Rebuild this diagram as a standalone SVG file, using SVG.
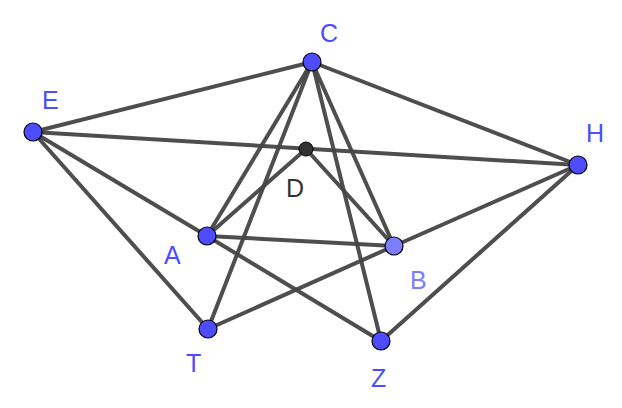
<svg xmlns="http://www.w3.org/2000/svg" width="622" height="408" viewBox="0 0 622 408">
<style>
.e{stroke:#444;stroke-width:4;stroke-linecap:round;fill:none;opacity:0.95}
.p{fill:#4d4dff;stroke:#000;stroke-width:1.2}
.l{font-family:"Liberation Sans",Arial,sans-serif;font-size:25px;fill:#4d4dff}
</style>
<rect width="622" height="408" fill="#fff"/>
<g id="connectors">
<line class="e" x1="33" y1="132" x2="312" y2="62"/>
<line class="e" x1="33" y1="132" x2="578" y2="165"/>
<line class="e" x1="312" y1="62" x2="578" y2="165"/>
<line class="e" x1="33" y1="132" x2="207" y2="236"/>
<line class="e" x1="33" y1="132" x2="208" y2="329"/>
<line class="e" x1="312" y1="62" x2="207" y2="236"/>
<line class="e" x1="312" y1="62" x2="208" y2="329"/>
<line class="e" x1="312" y1="62" x2="381" y2="341"/>
<line class="e" x1="312" y1="62" x2="394" y2="246"/>
<line class="e" x1="306" y1="149" x2="207" y2="236"/>
<line class="e" x1="306" y1="149" x2="394" y2="246"/>
<line class="e" x1="207" y1="236" x2="394" y2="246"/>
<line class="e" x1="207" y1="236" x2="381" y2="341"/>
<line class="e" x1="208" y1="329" x2="394" y2="246"/>
<line class="e" x1="394" y1="246" x2="578" y2="165"/>
<line class="e" x1="381" y1="341" x2="578" y2="165"/>
</g>
<g id="C"><circle class="p" cx="312" cy="62" r="9"/><text class="l" x="320" y="42">C</text></g>
<g id="E"><circle class="p" cx="33" cy="132" r="9"/><text class="l" x="42" y="109">E</text></g>
<g id="H"><circle class="p" cx="578" cy="165" r="9"/><text class="l" x="586" y="142">H</text></g>
<g id="D"><circle cx="306" cy="149" r="7" fill="#333" stroke="#000"/><text class="l" x="286" y="197" style="fill:#333">D</text></g>
<g id="A"><circle class="p" cx="207" cy="236" r="9"/><text class="l" x="164" y="264">A</text></g>
<g id="B"><circle class="p" cx="394" cy="246" r="9" style="fill:#7d7dff"/><text class="l" x="410" y="289" style="fill:#7d7dff">B</text></g>
<g id="T"><circle class="p" cx="208" cy="329" r="9"/><text class="l" x="186" y="372">T</text></g>
<g id="Z"><circle class="p" cx="381" cy="341" r="9"/><text class="l" x="371" y="387">Z</text></g>
</svg>
